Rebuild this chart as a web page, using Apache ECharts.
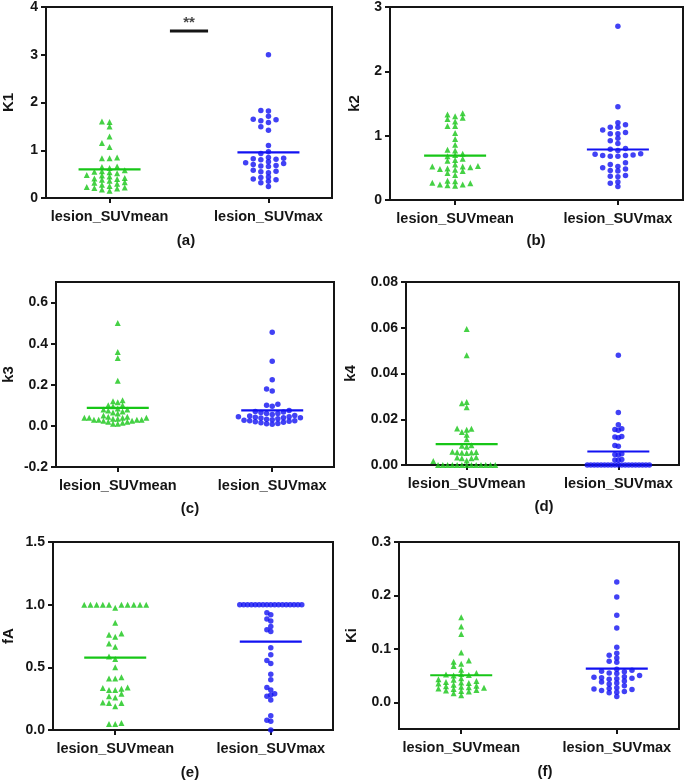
<!DOCTYPE html>
<html><head><meta charset="utf-8">
<script src="https://cdn.jsdelivr.net/npm/echarts@6/dist/echarts.min.js"></script>
<style>html,body{margin:0;padding:0;background:#fff}#c{width:685px;height:782px}</style>
</head><body><div id="c"></div>
<script>
// ---------- DATA ----------
const groups = ['lesion_SUVmean', 'lesion_SUVmax'];
const captions = ['(a)', '(b)', '(c)', '(d)', '(e)', '(f)'];
const paramNames = ['K1', 'k2', 'k3', 'k4', 'fA', 'Ki'];

const K1_SUVmean = [1.60,1.59,1.50,1.29,1.15,1.07,0.85,0.83,0.83,0.66,0.65,0.63,0.58,0.56,0.55,0.54,0.52,0.48,0.47,0.45,0.42,0.41,0.40,0.38,0.36,0.33,0.32,0.30,0.28,0.25,0.23,0.22,0.21,0.20,0.18,0.15];
const K1_SUVmax = [3.00,1.83,1.82,1.71,1.65,1.64,1.62,1.58,1.49,1.42,1.10,0.97,0.93,0.85,0.82,0.83,0.81,0.80,0.76,0.74,0.72,0.70,0.68,0.67,0.66,0.58,0.56,0.55,0.53,0.44,0.43,0.40,0.38,0.35,0.32,0.24];
const k2_SUVmean = [1.35,1.33,1.30,1.28,1.26,1.22,1.15,1.15,1.04,0.95,0.86,0.78,0.77,0.72,0.70,0.68,0.64,0.62,0.61,0.55,0.53,0.52,0.52,0.51,0.49,0.48,0.47,0.45,0.42,0.39,0.30,0.29,0.27,0.26,0.24,0.24,0.23,0.22];
const k2_SUVmax = [2.70,1.45,1.20,1.17,1.13,1.13,1.09,1.05,1.03,1.03,0.96,0.92,0.88,0.80,0.79,0.77,0.72,0.71,0.70,0.69,0.69,0.68,0.68,0.58,0.55,0.52,0.50,0.48,0.46,0.45,0.38,0.37,0.36,0.28,0.26,0.21];
const k3_SUVmean = [0.50,0.36,0.33,0.22,0.125,0.12,0.115,0.10,0.10,0.095,0.085,0.08,0.08,0.075,0.07,0.065,0.06,0.05,0.045,0.045,0.04,0.04,0.04,0.04,0.035,0.035,0.03,0.03,0.03,0.03,0.025,0.025,0.02,0.02,0.015,0.01,0.01];
const k3_SUVmax = [0.455,0.315,0.225,0.18,0.17,0.105,0.10,0.095,0.075,0.07,0.068,0.065,0.06,0.06,0.055,0.05,0.048,0.045,0.045,0.042,0.04,0.04,0.038,0.035,0.032,0.03,0.028,0.025,0.025,0.022,0.02,0.018,0.015,0.012,0.01,0.008];
const k4_SUVmean = [0.0595,0.048,0.0275,0.027,0.0253,0.016,0.0158,0.0154,0.0144,0.0132,0.0113,0.0086,0.0084,0.008,0.0058,0.0057,0.0056,0.0055,0.0054,0.0053,0.0034,0.0033,0.003,0.003,0.002,0.0018,0,0,0,0,0,0,0,0,0,0,0,0,0];
const k4_SUVmax = [0.048,0.0229,0.0176,0.0158,0.0155,0.0152,0.0125,0.0122,0.0119,0.0085,0.0082,0.0049,0.0046,0.0044,0.0024,0.0022,0.0021,0,0,0,0,0,0,0,0,0,0,0,0,0,0,0,0,0,0,0];
const fA_SUVmean = [1,1,1,1,1,1,1,1,1,1,0.975,0.856,0.77,0.76,0.745,0.69,0.665,0.586,0.567,0.50,0.42,0.41,0.41,0.34,0.335,0.33,0.32,0.32,0.29,0.27,0.26,0.22,0.215,0.215,0.19,0.056,0.048,0.048];
const fA_SUVmax = [1,1,1,1,1,1,1,1,1,1,1,1,1,1,1,1,1,0.935,0.92,0.885,0.87,0.825,0.80,0.785,0.657,0.60,0.555,0.53,0.445,0.40,0.34,0.32,0.29,0.28,0.27,0.24,0.114,0.077,0.07,0.0];
const Ki_SUVmean = [0.159,0.142,0.128,0.093,0.078,0.076,0.072,0.068,0.061,0.055,0.053,0.052,0.051,0.050,0.045,0.043,0.042,0.040,0.038,0.037,0.036,0.035,0.033,0.031,0.030,0.029,0.028,0.027,0.026,0.025,0.023,0.022,0.021,0.020,0.017,0.013];
const Ki_SUVmax = [0.225,0.197,0.163,0.139,0.103,0.092,0.088,0.083,0.077,0.075,0.062,0.060,0.058,0.057,0.055,0.054,0.050,0.048,0.047,0.046,0.045,0.044,0.043,0.040,0.038,0.036,0.034,0.031,0.027,0.026,0.025,0.024,0.022,0.020,0.019,0.018,0.011];

// group means (horizontal lines)
const mean_K1 = [0.60, 0.955];
const mean_k2 = [0.69, 0.785];
const mean_k3 = [0.088, 0.075];
const mean_k4 = [0.0091, 0.0059];
const mean_fA = [0.578, 0.705];
const mean_Ki = [0.0506, 0.063];

// y-axis ranges and tick labels
const range_K1 = [0, 4],      ticks_K1 = [0, 1, 2, 3, 4];
const range_k2 = [0, 3],      ticks_k2 = [0, 1, 2, 3];
const range_k3 = [-0.2, 0.7], ticks_k3 = [-0.2, 0.0, 0.2, 0.4, 0.6];
const range_k4 = [0, 0.08],   ticks_k4 = [0, 0.02, 0.04, 0.06, 0.08];
const range_fA = [0, 1.5],    ticks_fA = [0, 0.5, 1.0, 1.5];
const range_Ki = [-0.05, 0.3],ticks_Ki = [0, 0.1, 0.2, 0.3];

// significance annotation in panel (a)
const sigBarX = [1.38, 1.62];
const sigBarY = 3.5;
const sigText = '**';

// ---------- LAYOUT ----------
const panels = [
  {data:[K1_SUVmean, K1_SUVmax], mean:mean_K1, range:range_K1, ticks:ticks_K1, dec:0, grid:{left:41, top:6, width:291, height:192}, nameGap:30, cap:[186, 241]},
  {data:[k2_SUVmean, k2_SUVmax], mean:mean_k2, range:range_k2, ticks:ticks_k2, dec:0, grid:{left:390, top:6, width:293, height:194}, nameGap:28, cap:[536, 241]},
  {data:[k3_SUVmean, k3_SUVmax], mean:mean_k3, range:range_k3, ticks:ticks_k3, dec:1, grid:{left:54, top:282, width:280, height:185}, nameGap:40, cap:[190, 509]},
  {data:[k4_SUVmean, k4_SUVmax], mean:mean_k4, range:range_k4, ticks:ticks_k4, dec:2, grid:{left:406, top:282, width:273, height:183}, nameGap:48, cap:[544, 507]},
  {data:[fA_SUVmean, fA_SUVmax], mean:mean_fA, range:range_fA, ticks:ticks_fA, dec:1, grid:{left:50, top:542, width:283, height:188}, nameGap:37, cap:[190, 773]},
  {data:[Ki_SUVmean, Ki_SUVmax], mean:mean_Ki, range:range_Ki, ticks:ticks_Ki, dec:1, grid:{left:399, top:542, width:280, height:187}, nameGap:40, cap:[545, 772]}
];
const colors = ['#17c617', '#1212f2'];
const symbols = ['triangle', 'circle'];
const symSizes = [6, 5.5];
const FONT = '"Liberation Sans", Arial, Helvetica, sans-serif';
const INK = '#151515';
const X_MIN = 0.6, X_MAX = 2.4;

const chart = echarts.init(document.getElementById('c'), null, {renderer: 'canvas'});

const base = {
  animation: false,
  backgroundColor: '#fff',
  grid: panels.map(p => Object.assign({show: true, borderColor: INK, borderWidth: 2, backgroundColor: 'transparent'}, p.grid)),
  xAxis: panels.map((p, i) => ({
    type: 'value', gridIndex: i, min: X_MIN, max: X_MAX,
    axisLine: {onZero: false, lineStyle: {color: INK, width: 2}},
    axisTick: {show: true, customValues: [1, 2], length: 5, lineStyle: {color: INK, width: 2}},
    axisLabel: {customValues: [1, 2], formatter: v => groups[Math.round(v) - 1], margin: 11,
      fontFamily: FONT, fontWeight: 'bold', fontSize: 14.5, color: INK},
    splitLine: {show: false}
  })),
  yAxis: panels.map((p, i) => ({
    type: 'value', gridIndex: i, min: p.range[0], max: p.range[1],
    name: paramNames[i], nameLocation: 'middle', nameGap: p.nameGap,
    nameTextStyle: {fontFamily: FONT, fontWeight: 'bold', fontSize: 15, color: INK},
    axisLine: {onZero: false, lineStyle: {color: INK, width: 2}},
    axisTick: {show: true, customValues: p.ticks, length: 5, lineStyle: {color: INK, width: 2}},
    axisLabel: {customValues: p.ticks, formatter: v => Number(v).toFixed(p.dec), margin: 8,
      fontFamily: FONT, fontWeight: 'bold', fontSize: 14, color: INK},
    splitLine: {show: false}
  })),
  series: []
};
chart.setOption(base);

// beeswarm layout computed from the values through the axes' scales
function swarm(gi, center, vals) {
  const BIN = 4.2, MAXSTEP = 7.6, MAXSPAN = 62;
  const pts = vals.map(v => ({v: v, py: chart.convertToPixel({gridIndex: gi}, [center, v])[1], col: 0}));
  const order = pts.map((p, i) => i).sort((a, b) => pts[a].v - pts[b].v);
  const placed = {};
  let minC = 0, maxC = 0;
  order.forEach(i => {
    const p = pts[i];
    for (let k = 0; ; k++) {
      const col = k === 0 ? 0 : (k % 2 === 1 ? -Math.ceil(k / 2) : k / 2);
      const arr = placed[col] || [];
      if (arr.every(y => Math.abs(y - p.py) >= BIN)) { arr.push(p.py); placed[col] = arr; p.col = col; break; }
    }
    minC = Math.min(minC, p.col); maxC = Math.max(maxC, p.col);
  });
  const span = maxC - minC;
  const step = span > 0 ? Math.min(MAXSTEP, MAXSPAN / span) : MAXSTEP;
  const cx = chart.convertToPixel({gridIndex: gi}, [center, 0])[0];
  return pts.map(p => [chart.convertFromPixel({gridIndex: gi}, [cx + p.col * step, p.py])[0], p.v]);
}

const series = [];
const graphics = [];
panels.forEach((p, i) => {
  const cx1 = chart.convertToPixel({gridIndex: i}, [1, 0])[0];
  const halfW = chart.convertFromPixel({gridIndex: i}, [cx1 + 31, 0])[0] - 1;
  p.data.forEach((vals, g) => {
    series.push({
      type: 'scatter', xAxisIndex: i, yAxisIndex: i, clip: false,
      symbol: symbols[g], symbolSize: symSizes[g],
      itemStyle: {color: colors[g]},
      data: swarm(i, g + 1, vals), z: 3
    });
  });
  p.mean.forEach((m, g) => {
    series.push({
      type: 'line', xAxisIndex: i, yAxisIndex: i, symbol: 'none',
      lineStyle: {color: colors[g], width: 2.2}, z: 4,
      data: [[g + 1 - halfW, m], [g + 1 + halfW, m]]
    });
  });
  graphics.push({
    type: 'text', x: p.cap[0], y: p.cap[1],
    style: {text: captions[i], align: 'center', verticalAlign: 'middle', textAlign: 'center', textVerticalAlign: 'middle',
      font: 'bold 15px ' + FONT, fill: INK}
  });
});
// significance bar (a)
series.push({
  type: 'line', xAxisIndex: 0, yAxisIndex: 0, symbol: 'none',
  lineStyle: {color: INK, width: 3}, z: 4,
  data: [[sigBarX[0], sigBarY], [sigBarX[1], sigBarY]]
});
series.push({
  type: 'scatter', xAxisIndex: 0, yAxisIndex: 0, symbolSize: 0, z: 4,
  label: {show: true, position: 'top', distance: 1, formatter: sigText,
    fontFamily: FONT, fontWeight: 'bold', fontSize: 15, color: INK},
  data: [[(sigBarX[0] + sigBarX[1]) / 2, sigBarY]]
});

chart.setOption({series: series, graphic: graphics});
</script>
</body></html>
